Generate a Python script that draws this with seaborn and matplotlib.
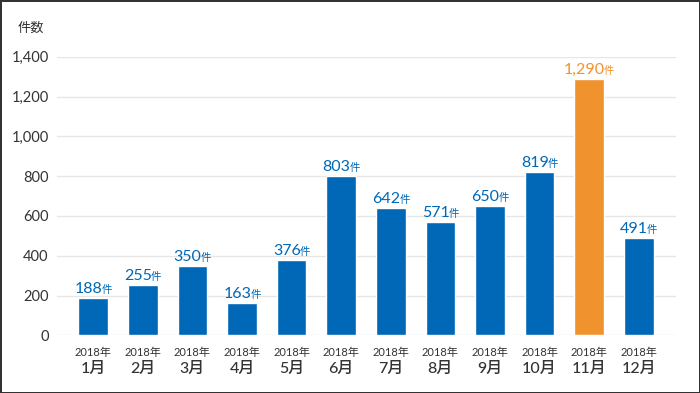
import matplotlib
matplotlib.use("Agg")
import matplotlib.pyplot as plt
import seaborn as sns

# data
months = ['1月', '2月', '3月', '4月', '5月', '6月', '7月', '8月', '9月', '10月', '11月', '12月']
year_label = '2018年'
counts = [188, 255, 350, 163, 376, 803, 642, 571, 650, 819, 1290, 491]
highlight = '11月'
y_ticks = [0, 200, 400, 600, 800, 1000, 1200, 1400]

BLUE = '#0068b7'
ORANGE = '#f0922e'
TEXT = '#333333'

sns.set_style('white')
plt.rcParams['font.family'] = ['Lato', 'Noto Sans CJK JP', 'DejaVu Sans']

fig = plt.figure(figsize=(7, 3.93), dpi=100, facecolor='white',
                 edgecolor='#333333', linewidth=2)
ax = fig.add_axes([0.0814, 0.1468, 0.8843, 0.7089])

palette = [ORANGE if m == highlight else BLUE for m in months]
sns.barplot(x=months, y=counts, hue=months, palette=palette, legend=False,
            width=0.6, saturation=1, ax=ax, zorder=3)

ax.set_xlim(-0.73, 11.75)
ax.set_ylim(0, 1400)
ax.set_yticks(y_ticks)
ax.set_yticklabels([f'{t:,}' for t in y_ticks], fontsize=10.5, color=TEXT)
ax.tick_params(axis='y', length=0, pad=6)
ax.tick_params(axis='x', length=0)
ax.set_xticks(range(len(months)))
ax.set_xticklabels([])
ax.set_xlabel('')
ax.set_ylabel('')
ax.grid(axis='y', color='#e6e6e6', linewidth=1, zorder=0)
for s in ax.spines.values():
    s.set_visible(False)

# x labels: small year line + larger month line
xt = ax.get_xaxis_transform()
for i, m in enumerate(months):
    ax.text(i, -0.063, year_label, transform=xt, ha='center', va='center',
            fontsize=8, color=TEXT)
    ax.text(i, -0.121, m, transform=xt, ha='center', va='center',
            fontsize=11.5, color=TEXT, fontweight='medium')

# value labels: number + smaller 件, centered as a group
renderer = fig.canvas.get_renderer()
for i, (m, v) in enumerate(zip(months, counts)):
    col = ORANGE if m == highlight else BLUE
    num = ax.annotate(f'{v:,}', xy=(i, v), xytext=(0, 5), textcoords='offset pixels',
                      ha='left', va='baseline', fontsize=11.5, color=col)
    ken = ax.annotate('件', xy=(i, v), xytext=(0, 5), textcoords='offset pixels',
                      ha='left', va='baseline', fontsize=7.5, color=col)
    w_num = num.get_window_extent(renderer).width
    w_ken = ken.get_window_extent(renderer).width
    total = w_num + w_ken - 1
    num.set_position((-total / 2, 5))
    ken.set_position((-total / 2 + w_num - 1, 5))

fig.text(18 / 700, 1 - 28 / 393, '件数', fontsize=9.5, color=TEXT, va='center')

fig.savefig('out.png', dpi=100, facecolor=fig.get_facecolor(),
            edgecolor=fig.get_edgecolor())
